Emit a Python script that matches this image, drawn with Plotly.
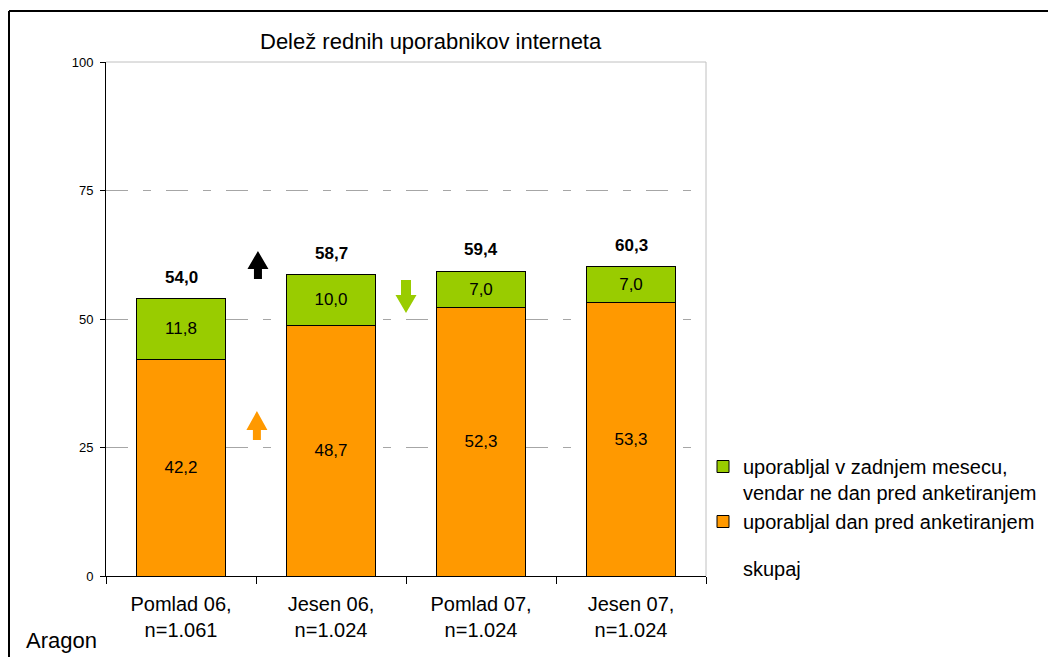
import plotly.graph_objects as go

categories = ["Pomlad 06,<br>n=1.061", "Jesen 06,<br>n=1.024", "Pomlad 07,<br>n=1.024", "Jesen 07,<br>n=1.024"]
dan_pred = [42.2, 48.7, 52.3, 53.3]
zadnji_mesec = [11.8, 10.0, 7.0, 7.0]
skupaj = [54.0, 58.7, 59.4, 60.3]
y_ticks = [0, 25, 50, 75, 100]

name_green = "uporabljal v zadnjem mesecu,<br>vendar ne dan pred anketiranjem"
name_orange = "uporabljal dan pred anketiranjem"

ORANGE = "#FF9900"
GREEN = "#99CC00"
FONT = "Liberation Sans, Arial, sans-serif"

# page is drawn with an 8px body margin; plot area in page px: x 106..706, y 62..576
def px(x):
    return (x - 106) / 600

def py(y):
    return (576 - y) / 514

fig = go.Figure()
fig.add_trace(go.Bar(
    x=list(range(len(categories))), y=dan_pred, name=name_orange,
    marker=dict(color=ORANGE, line=dict(color="black", width=1)),
    texttemplate="%{y:.1f}", textposition="inside", insidetextanchor="middle",
    textfont=dict(size=17, color="black", family=FONT), legendrank=2,
    hoverinfo="skip",
))
fig.add_trace(go.Bar(
    x=list(range(len(categories))), y=zadnji_mesec, name=name_green,
    marker=dict(color=GREEN, line=dict(color="black", width=1)),
    texttemplate="%{y:.1f}", textposition="inside", insidetextanchor="middle",
    textfont=dict(size=17, color="black", family=FONT), legendrank=1,
    hoverinfo="skip",
))
fig.add_trace(go.Scatter(
    x=[None], y=[None], mode="lines", name="skupaj",
    line=dict(color="rgba(0,0,0,0)", width=0), legend="legend2",
    hoverinfo="skip",
))

annotations = []
for i, t in enumerate(skupaj):
    annotations.append(dict(
        x=i, y=t, xref="x", yref="y", text="<b>" + f"{t:.1f}".replace(".", ",") + "</b>",
        showarrow=False, yshift=21, font=dict(size=17, color="black", family=FONT),
    ))
annotations.append(dict(
    x=px(431), y=py(42), xref="paper", yref="paper", text="Delež rednih uporabnikov interneta",
    showarrow=False, font=dict(size=22, color="black", family=FONT), yanchor="middle",
))
annotations.append(dict(
    x=px(24), y=py(640), xref="paper", yref="paper", text="Aragon", xanchor="left", yanchor="middle",
    showarrow=False, font=dict(size=22, color="black", family=FONT),
))

# change arrows: (x position, tip y, base y, head base y, stem half width px, color)
arrows = [
    (0.513, 63.23, 57.78, 59.73, 4, "black"),
    (0.506, 32.10, 26.46, 28.40, 4, ORANGE),
    (1.500, 51.17, 57.59, 54.67, 5, GREEN),
]
px_x = 1 / 150.0
shapes = []
for cx, tip, base, hb, sw, col in arrows:
    hw = 10.5 * px_x
    s = sw * px_x
    path = (f"M {cx} {tip} L {cx + hw} {hb} L {cx + s} {hb} L {cx + s} {base} "
            f"L {cx - s} {base} L {cx - s} {hb} L {cx - hw} {hb} Z")
    shapes.append(dict(type="path", path=path, xref="x", yref="y", fillcolor=col,
                       line=dict(width=0), layer="above"))

# plot area light border (top/right)
shapes.append(dict(type="line", xref="paper", yref="paper", x0=0, x1=1, y0=1, y1=1,
                   line=dict(color="#c0c0c0", width=1), layer="below"))
shapes.append(dict(type="line", xref="paper", yref="paper", x0=1, x1=1, y0=0, y1=1,
                   line=dict(color="#c0c0c0", width=1), layer="below"))
# outer frame (left and top)
shapes.append(dict(type="line", xref="paper", yref="paper", x0=px(9), x1=px(1070),
                   y0=py(11), y1=py(11), line=dict(color="black", width=2)))
shapes.append(dict(type="line", xref="paper", yref="paper", x0=px(9), x1=px(9),
                   y0=py(11), y1=py(670), line=dict(color="black", width=2)))

fig.update_layout(
    width=1056, height=657,
    margin=dict(l=98, r=358, t=54, b=89),
    paper_bgcolor="white", plot_bgcolor="white",
    barmode="stack", bargap=0.41,
    separators=", ",
    font=dict(family=FONT, color="black"),
    showlegend=True,
    legend=dict(x=px(703), y=py(447), xanchor="left", yanchor="top", traceorder="normal",
                font=dict(size=20, family=FONT), valign="top", bgcolor="rgba(0,0,0,0)",
                tracegroupgap=0, itemclick=False),
    legend2=dict(x=px(703), y=py(549), xanchor="left", yanchor="top",
                 font=dict(size=20, family=FONT), bgcolor="rgba(0,0,0,0)", itemclick=False),
    annotations=annotations,
    shapes=shapes,
    xaxis=dict(
        tickmode="array", tickvals=list(range(len(categories))), ticktext=categories,
        range=[-0.5, len(categories) - 0.5],
        showline=True, linecolor="black", linewidth=1,
        ticks="", tickfont=dict(size=20, family=FONT, color="black"), ticklabelstandoff=10,
        showgrid=False, zeroline=False, fixedrange=True,
    ),
    xaxis2=dict(
        overlaying="x", range=[-0.5, len(categories) - 0.5], tickmode="array",
        tickvals=[i - 0.5 for i in range(len(categories) + 1)], ticktext=[""] * (len(categories) + 1),
        ticks="outside", ticklen=7, tickcolor="black", side="bottom", showgrid=False,
        showline=False, zeroline=False, fixedrange=True, anchor="y",
    ),
    yaxis=dict(
        range=[0, 100], tickvals=y_ticks, showline=True, linecolor="black", linewidth=1,
        ticks="outside", ticklen=5, tickcolor="black",
        tickfont=dict(size=13, family=FONT, color="black"), ticklabelstandoff=4,
        showgrid=True, gridcolor="#a6a6a6", gridwidth=1, griddash="22px,15px,8px,15px",
        zeroline=False, fixedrange=True,
    ),
)
# dummy trace on xaxis2 so the boundary ticks render
fig.add_trace(go.Scatter(x=[None], y=[None], xaxis="x2", yaxis="y", showlegend=False, hoverinfo="skip"))

fig.write_html("out.html")
